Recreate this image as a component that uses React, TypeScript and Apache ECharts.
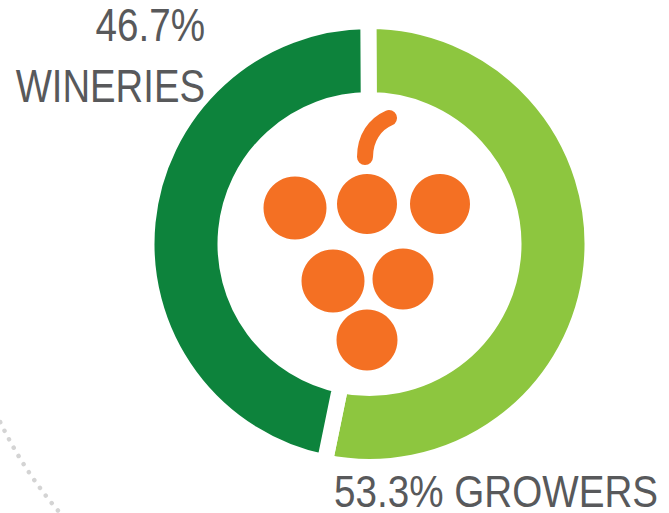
import React, { useEffect, useRef } from "react";
import * as echarts from "echarts";

const categories = ["GROWERS", "WINERIES"];
const shares = [53.3, 46.7];
const sliceColors = ["#8dc63f", "#0d833c"];
const orange = "#f47023";
const grey = "#58595b";
const grapes = [
  [295, 208, 31.5],
  [367, 204, 30],
  [440, 204, 30],
  [333, 281, 31.5],
  [403, 279, 30.5],
  [367, 340, 30.5],
];
const font = '"Liberation Sans", sans-serif';

export default function App() {
  const ref = useRef<HTMLDivElement>(null);
  useEffect(() => {
    const chart = echarts.init(ref.current!, undefined, { renderer: "svg" });
    chart.setOption({
      animation: false,
      backgroundColor: "#ffffff",
      series: [
        {
          type: "pie",
          z: 1,
          center: [369.5, 244],
          radius: [144, 223],
          startAngle: 90.3,
          silent: true,
          label: { show: false },
          labelLine: { show: false },
          data: categories.map((name, i) => ({
            name,
            value: shares[i],
            itemStyle: { color: sliceColors[i], borderColor: "#ffffff", borderWidth: 16 },
          })),
        },
      ],
      graphic: {
        elements: [
          {
            type: "arc",
            silent: true,
            z: 100,
            shape: { cx: 369.5, cy: 244, r: 410, startAngle: 2.27, endAngle: 2.75, clockwise: true },
            style: { fill: "none", stroke: "#d4d4d4", lineWidth: 4.5, lineCap: "round", lineDash: [0.01, 9.6] },
          },
          ...grapes.map(([cx, cy, r]) => ({
            type: "circle",
            silent: true,
            z: 100,
            shape: { cx, cy, r },
            style: { fill: orange },
          })),
          {
            type: "bezierCurve",
            silent: true,
            z: 100,
            shape: { x1: 365, y1: 157, cpx1: 365, cpy1: 138, cpx2: 375, cpy2: 124, x2: 389, y2: 118 },
            style: { fill: "none", stroke: orange, lineWidth: 16, lineCap: "round" },
          },
          {
            type: "text",
            silent: true,
            z: 100,
            x: 205,
            y: 25,
            scaleX: 0.84,
            style: { text: "46.7%", font: `46px ${font}`, fill: grey, textAlign: "right", textVerticalAlign: "middle" },
          },
          {
            type: "text",
            silent: true,
            z: 100,
            x: 205,
            y: 86,
            scaleX: 0.815,
            style: { text: "WINERIES", font: `47px ${font}`, fill: grey, textAlign: "right", textVerticalAlign: "middle" },
          },
          {
            type: "text",
            silent: true,
            z: 100,
            x: 334,
            y: 492.5,
            scaleX: 0.878,
            style: { text: "53.3% GROWERS", font: `44px ${font}`, fill: grey, textAlign: "left", textVerticalAlign: "middle" },
          },
        ],
      },
    });
    return () => chart.dispose();
  }, []);
  return <div ref={ref} style={{ position: "fixed", left: 0, top: 0, width: 669, height: 513 }} />;
}
